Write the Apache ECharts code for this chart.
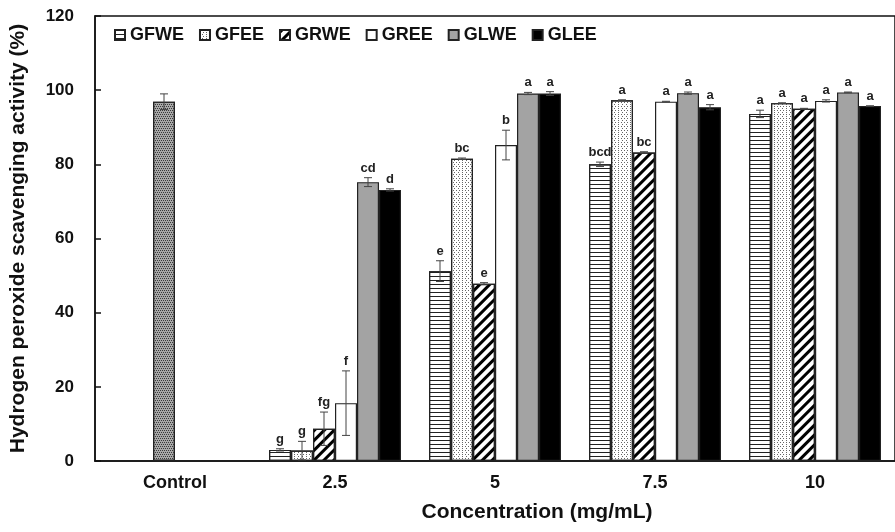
<!DOCTYPE html>
<html>
<head>
<meta charset="utf-8">
<script src="https://cdn.jsdelivr.net/npm/echarts@6/dist/echarts.min.js"></script>
<style>html,body{margin:0;padding:0;background:#fff;}#c{width:895px;height:532px;}</style>
</head>
<body>
<div id="c"></div>
<script>
const categories = ['Control', '2.5', '5', '7.5', '10'];
const seriesNames = ['GFWE', 'GFEE', 'GRWE', 'GREE', 'GLWE', 'GLEE'];

const GFWE = [null, 3.0, 51.2, 80.0, 93.6];
const GFEE = [null, 2.8, 81.5, 97.3, 96.5];
const GRWE = [null, 8.7, 47.8, 83.2, 95.0];
const GREE = [null, 15.6, 85.2, 96.9, 97.1];
const GLWE = [null, 75.2, 99.1, 99.2, 99.4];
const GLEE = [null, 73.1, 99.1, 95.4, 95.7];

const GFWE_err = [null, 0.3, 2.8, 0.6, 1.0];
const GFEE_err = [null, 2.5, 0.2, 0.1, 0.1];
const GRWE_err = [null, 4.5, 0.3, 0.2, 0.1];
const GREE_err = [null, 8.7, 4.0, 0.1, 0.3];
const GLWE_err = [null, 1.2, 0.3, 0.3, 0.1];
const GLEE_err = [null, 0.3, 0.5, 0.7, 0.1];

const GFWE_sig = ['', 'g', 'e', 'bcd', 'a'];
const GFEE_sig = ['', 'g', 'bc', 'a', 'a'];
const GRWE_sig = ['', 'fg', 'e', 'bc', 'a'];
const GREE_sig = ['', 'f', 'b', 'a', 'a'];
const GLWE_sig = ['', 'cd', 'a', 'a', 'a'];
const GLEE_sig = ['', 'd', 'a', 'a', 'a'];

const controlValue = 96.9;
const controlErr = 2.1;
const controlSlot = 2;

const values = [GFWE, GFEE, GRWE, GREE, GLWE, GLEE];
const errs = [GFWE_err, GFEE_err, GRWE_err, GREE_err, GLWE_err, GLEE_err];
const sigs = [GFWE_sig, GFEE_sig, GRWE_sig, GREE_sig, GLWE_sig, GLEE_sig];

const BAR_W = 22;
const FONT = 'Liberation Sans, Arial, sans-serif';

const decals = [
  {symbol: 'rect', symbolSize: 1, color: '#222', dashArrayX: [1, 0], dashArrayY: [1, 2.5]},
  {symbol: 'rect', symbolSize: 1, color: '#666', dashArrayX: [[1, 2], [0, 1.5, 1, 0.5]], dashArrayY: [1, 1]},
  {symbol: 'rect', symbolSize: 1, color: '#000', dashArrayX: [1, 0], dashArrayY: [2.5, 3.5], rotation: -Math.PI / 4},
  null, null, null
];
const controlDecal = {symbol: 'rect', symbolSize: 1, color: '#3a3a3a', dashArrayX: [[1, 1], [0, 1, 1, 0]], dashArrayY: [1, 1]};
const fills = ['#fff', '#fff', '#fff', '#fff', '#a3a3a3', '#000'];

const barSeries = seriesNames.map((name, si) => {
  const data = values[si].map((v, ci) => {
    if (ci === 0 && si === controlSlot) {
      return {value: controlValue, itemStyle: {color: '#a8a8a8', decal: controlDecal}};
    }
    return v;
  });
  const itemStyle = {color: fills[si], borderColor: '#222', borderWidth: 1.2};
  if (decals[si]) itemStyle.decal = decals[si];
  return {
    name: name, type: 'bar', data: data, barWidth: BAR_W, barGap: '0%',
    itemStyle: itemStyle, z: 2
  };
});

const errItems = [];
seriesNames.forEach((name, si) => {
  values[si].forEach((v, ci) => {
    if (v == null) return;
    errItems.push({ci: ci, v: v, e: errs[si][ci], si: si, sig: sigs[si][ci]});
  });
});
errItems.push({ci: 0, v: controlValue, e: controlErr, si: controlSlot, sig: ''});

const errSeries = {
  type: 'custom',
  name: 'err',
  z: 5,
  data: errItems.map(d => [d.ci, d.v, d.e, d.si]),
  encode: {x: 0, y: 1},
  renderItem: function (params, api) {
    const d = errItems[params.dataIndex];
    const top = api.coord([d.ci, d.v + d.e]);
    const bot = api.coord([d.ci, d.v - d.e]);
    const x = top[0] + (d.si - 2.5) * BAR_W;
    const cap = 4;
    const st = {stroke: '#444', lineWidth: 1};
    const children = [
      {type: 'line', shape: {x1: x, y1: top[1], x2: x, y2: bot[1]}, style: st},
      {type: 'line', shape: {x1: x - cap, y1: top[1], x2: x + cap, y2: top[1]}, style: st},
      {type: 'line', shape: {x1: x - cap, y1: bot[1], x2: x + cap, y2: bot[1]}, style: st}
    ];
    if (d.sig) {
      children.push({
        type: 'text',
        style: {
          text: d.sig, x: x, y: top[1] - 3, textAlign: 'center', textVerticalAlign: 'bottom',
          fill: '#222', font: 'bold 13px ' + FONT
        }
      });
    }
    return {type: 'group', children: children};
  }
};

const chart = echarts.init(document.getElementById('c'));
chart.setOption({
  animation: false,
  backgroundColor: '#fff',
  textStyle: {fontFamily: FONT},
  legend: {
    data: seriesNames,
    left: 109, top: 21,
    itemWidth: 10, itemHeight: 10, itemGap: 15,
    icon: 'rect',
    textStyle: {fontSize: 18, fontWeight: 'bold', color: '#111', fontFamily: FONT}
  },
  grid: {left: 94, top: 16, width: 811, height: 445, show: true, borderColor: '#111', borderWidth: 1.5, containLabel: false},
  xAxis: {
    type: 'category', data: categories,
    axisLine: {lineStyle: {color: '#111', width: 1.5}},
    axisTick: {inside: true, length: 5, alignWithLabel: false, lineStyle: {color: '#111', width: 1.5}},
    axisLabel: {fontSize: 18, fontWeight: 'bold', color: '#111', margin: 13, fontFamily: FONT},
    name: 'Concentration (mg/mL)', nameLocation: 'middle', nameGap: 41,
    nameTextStyle: {fontSize: 21, fontWeight: 'bold', color: '#111', padding: [0, 0, 0, 84], fontFamily: FONT}
  },
  yAxis: {
    type: 'value', min: 0, max: 120, interval: 20,
    axisLine: {show: true, lineStyle: {color: '#111', width: 1.5}},
    axisTick: {show: true, inside: true, length: 6, lineStyle: {color: '#111', width: 1.5}},
    splitLine: {show: false},
    axisLabel: {fontSize: 17, fontWeight: 'bold', color: '#111', margin: 21, fontFamily: FONT},
    name: 'Hydrogen peroxide scavenging activity (%)', nameLocation: 'middle', nameGap: 66,
    nameTextStyle: {fontSize: 21, fontWeight: 'bold', color: '#111', fontFamily: FONT}
  },
  series: barSeries.concat([errSeries])
});
</script>
</body>
</html>
